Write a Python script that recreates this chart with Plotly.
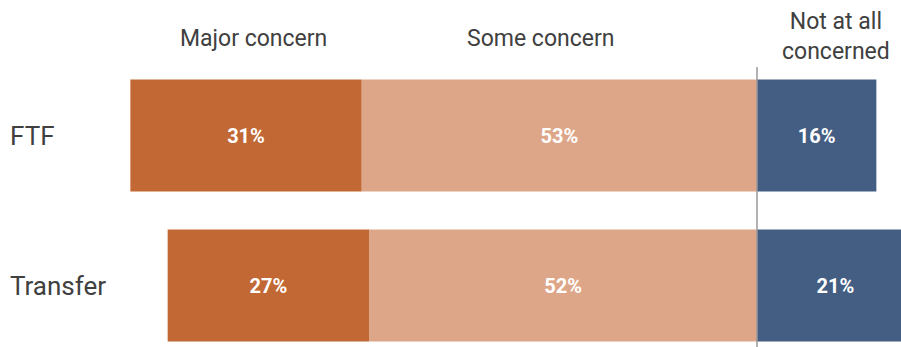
import plotly.graph_objects as go

categories = ["FTF", "Transfer"]
major = [31, 27]
some = [53, 52]
not_at_all = [16, 21]
headers = ["Major concern", "Some concern", "Not at all<br>concerned"]

C_MAJOR = "#C26835"
C_SOME = "#DEA688"
C_NOT = "#435E82"

W, H = 901, 347
PX_PER = 7.46
ZERO_PX = 757

fig = go.Figure()
label_font = dict(family="Roboto", size=20, color="white")

fig.add_trace(go.Bar(
    y=categories, x=[-v for v in some], orientation="h",
    marker=dict(color=C_SOME, line=dict(width=0)),
    text=[f"<b>{v}%</b>" for v in some], textposition="inside",
    insidetextanchor="middle", textfont=label_font, hoverinfo="skip"))
fig.add_trace(go.Bar(
    y=categories, x=[-v for v in major], orientation="h",
    marker=dict(color=C_MAJOR, line=dict(width=0)),
    text=[f"<b>{v}%</b>" for v in major], textposition="inside",
    insidetextanchor="middle", textfont=label_font, hoverinfo="skip"))
fig.add_trace(go.Bar(
    y=categories, x=not_at_all, orientation="h",
    marker=dict(color=C_NOT, line=dict(width=0)),
    text=[f"<b>{v}%</b>" for v in not_at_all], textposition="inside",
    insidetextanchor="middle", textfont=label_font, hoverinfo="skip"))

x_lo = (0 - ZERO_PX) / PX_PER
x_hi = (W - ZERO_PX) / PX_PER

# y: category 0 center at 135.5px, 1 at 285.5px, 150px apart
y_top = 0 - 135.5 / 150
y_bot = 1 + (H - 285.5) / 150

fig.update_layout(
    width=W, height=H, margin=dict(l=0, r=0, t=0, b=0),
    paper_bgcolor="white", plot_bgcolor="white",
    barmode="relative", bargap=0.253, showlegend=False,
    xaxis=dict(range=[x_lo, x_hi], visible=False, fixedrange=True),
    yaxis=dict(range=[y_bot, y_top], visible=False, type="category", fixedrange=True),
    uniformtext=dict(mode=False),
)

fig.add_shape(type="line", xref="x", yref="paper", x0=0, x1=0,
              y0=0, y1=1 - 67 / H, line=dict(color="#9a9a9a", width=1.5))

hdr_font = dict(family="Roboto", size=23, color="#404040")
fig.add_annotation(text=headers[0], xref="paper", yref="paper", x=253 / W, y=1 - 38 / H,
                   showarrow=False, font=hdr_font, xanchor="center", yanchor="middle")
fig.add_annotation(text=headers[1], xref="paper", yref="paper", x=540 / W, y=1 - 38 / H,
                   showarrow=False, font=hdr_font, xanchor="center", yanchor="middle")
fig.add_annotation(text=headers[2], xref="paper", yref="paper", x=836 / W, y=1 - 36 / H,
                   showarrow=False, font=hdr_font, xanchor="center", yanchor="middle",
                   align="center")

cat_font = dict(family="Roboto", size=26, color="#404040")
for c in categories:
    fig.add_annotation(text=c, xref="paper", yref="y", x=8 / W, y=c,
                       showarrow=False, font=cat_font, xanchor="left", yanchor="middle")

fig.write_html("out.html")
